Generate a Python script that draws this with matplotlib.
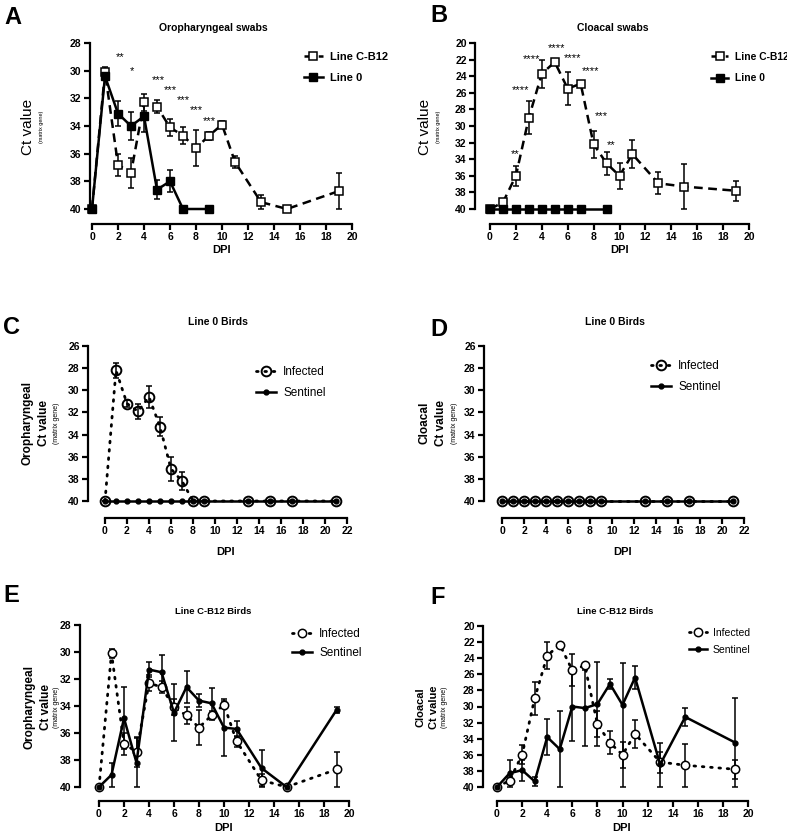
import matplotlib
matplotlib.use('Agg')
import matplotlib.pyplot as plt

plt.rcParams['font.family'] = ['Liberation Sans', 'DejaVu Sans']

W, H = 787, 833

# ---- data (Ct values, matrix gene) ----
# oropharyngeal, line C-B12 infected
oro_cb12_dpi = [0, 1, 2, 3, 4, 5, 6, 7, 8, 9, 10, 11, 13, 15, 19]
oro_cb12_ct = [40, 30.1, 36.8, 37.4, 32.3, 32.6, 34.1, 34.7, 35.6, 34.7, 33.9, 36.6, 39.5, 40, 38.7]
oro_cb12_err = [0, 0.35, 0.8, 1.1, 0.6, 0.45, 0.6, 0.6, 1.3, 0.3, 0.25, 0.4, 0.5, 0, 1.3]
# oropharyngeal, line 0 infected (panel A)
oro_l0_dpi = [0, 1, 2, 3, 4, 5, 6, 7, 9]
oro_l0_ct = [40, 30.4, 33.1, 34.0, 33.3, 38.6, 38.0, 40, 40]
oro_l0_err = [0, 0.3, 0.9, 1.0, 1.1, 0.7, 0.8, 0, 0]
# cloacal, line C-B12 infected
clo_cb12_dpi = [0, 1, 2, 3, 4, 5, 6, 7, 8, 9, 10, 11, 13, 15, 19]
clo_cb12_ct = [40, 39.2, 36.0, 29.0, 23.7, 22.3, 25.5, 24.9, 32.2, 34.5, 36.0, 33.4, 36.9, 37.3, 37.8]
clo_cb12_err = [0, 0.4, 1.2, 2.0, 1.7, 0.2, 2.0, 0.3, 1.6, 1.4, 1.6, 1.7, 1.3, 2.7, 1.2]
# cloacal, line 0 infected (panel B)
clo_l0_dpi = [0, 1, 2, 3, 4, 5, 6, 7, 9]
clo_l0_ct = [40, 40, 40, 40, 40, 40, 40, 40, 40]

# line 0 birds, infected vs sentinel (panels C, D)
l0_dpi = [0, 1, 2, 3, 4, 5, 6, 7, 8, 9, 13, 15, 17, 21]
l0_oro_inf_ct = [40, 28.2, 31.2, 31.9, 30.6, 33.3, 37.1, 38.2, 40, 40, 40, 40, 40, 40]
l0_oro_inf_err = [0, 0.65, 0.3, 0.7, 1.0, 0.85, 1.05, 0.8, 0, 0, 0, 0, 0, 0]
l0_oro_sen_ct = [40] * 14
l0_clo_inf_ct = [40] * 14
l0_clo_sen_ct = [40] * 14

# line C-B12 sentinels (panels E, F)
sen_dpi = [0, 1, 2, 3, 4, 5, 6, 7, 8, 9, 10, 11, 13, 15, 19]
sen_oro_ct = [40, 39.1, 34.9, 38.2, 31.3, 31.5, 34.5, 32.6, 33.6, 33.8, 35.6, 35.7, 38.6, 40, 34.3]
sen_oro_err = [0, 0.9, 2.3, 1.8, 0.55, 1.25, 2.1, 1.2, 0.5, 1.1, 2.1, 0.6, 1.35, 0, 0.25]
sen_clo_ct = [40, 38.3, 37.9, 39.3, 33.8, 35.3, 30.0, 30.2, 29.7, 27.2, 29.8, 26.4, 37.2, 31.3, 34.5]
sen_clo_err_up = [0, 1.7, 1.3, 0.6, 2.2, 4.7, 4.3, 4.7, 5.2, 0.6, 5.2, 1.4, 2.7, 1.15, 5.6]
sen_clo_err_dn = [0, 1.7, 1.3, 0.6, 2.2, 4.7, 4.3, 4.7, 5.2, 0.6, 10.2, 1.4, 2.8, 1.15, 5.5]

# significance stars
star_a_x = [2.2, 3.1, 5.1, 6.05, 7.0, 8.0, 9.0]
star_a_y = [28.8, 29.8, 30.5, 31.2, 31.9, 32.6, 33.4]
star_a_txt = ['**', '*', '***', '***', '***', '***', '***']
star_b_x = [1.93, 2.39, 3.17, 5.1, 6.4, 7.8, 8.6, 9.35]
star_b_y = [33.0, 25.3, 21.6, 20.2, 21.5, 23.05, 28.5, 31.9]
star_b_txt = ['**', '****', '****', '****', '****', '****', '***', '**']


def box(l, r, t, b):
    return [l / W, 1 - b / H, (r - l) / W, (b - t) / H]


def ftext(x, y, s, **kw):
    fig.text(x / W, 1 - y / H, s, **kw)


def style(ax, xmax, ytop, off_l, off_b):
    for s in ['top', 'right']:
        ax.spines[s].set_visible(False)
    ax.spines['left'].set_position(('outward', off_l * 0.72))
    ax.spines['bottom'].set_position(('outward', off_b * 0.72))
    for s in ['left', 'bottom']:
        ax.spines[s].set_linewidth(1.6)
    ax.set_xlim(0, xmax)
    ax.set_ylim(40, ytop)
    ax.set_xticks(range(0, xmax + 1, 2))
    ax.set_yticks(range(ytop, 41, 2))
    ax.tick_params(width=1.6, length=4, labelsize=7.5, pad=2)
    for lab in ax.get_xticklabels() + ax.get_yticklabels():
        lab.set_fontweight('bold')


def errs(ax, x, y, e):
    ax.errorbar(x, y, yerr=e, fmt='none', ecolor='black', elinewidth=1.1,
                capsize=2.5, capthick=1.1, clip_on=False, zorder=2)


def legend(ax, x, y, fs, bold, spacing):
    ax.legend(loc='upper left', bbox_to_anchor=(x / W, 1 - y / H),
              bbox_transform=fig.transFigure, frameon=False, borderpad=0,
              borderaxespad=0, handlelength=1.7, handletextpad=0.6,
              labelspacing=spacing,
              prop={'size': fs, 'weight': 'bold' if bold else 'normal'})


def stars(ax, xs, ys, txt):
    for x, y, t in zip(xs, ys, txt):
        ax.annotate(t, (x, y), xytext=(0, -4.3), textcoords='offset points',
                    ha='center', va='baseline', fontsize=8, annotation_clip=False)


fig = plt.figure(figsize=(W / 100, H / 100), dpi=100)

sq_open = dict(marker='s', markersize=5.5, markerfacecolor='white',
               markeredgecolor='black', markeredgewidth=1.1, color='black')
sq_fill = dict(marker='s', markersize=5.5, color='black')
dash = dict(linestyle=(0, (3.5, 2.2)), linewidth=1.8)
dot = dict(linestyle=(0, (0.6, 2.4)), linewidth=2.0, dash_capstyle='round')

# ---- A ----
ax = fig.add_axes(box(92, 352, 43, 209))
style(ax, 20, 28, 2, 15)
errs(ax, oro_cb12_dpi, oro_cb12_ct, oro_cb12_err)
errs(ax, oro_l0_dpi, oro_l0_ct, oro_l0_err)
ax.plot(oro_cb12_dpi, oro_cb12_ct, label='Line C-B12', clip_on=False, zorder=3, **sq_open, **dash)
ax.plot(oro_l0_dpi, oro_l0_ct, label='Line 0', clip_on=False, zorder=4, linewidth=1.8, **sq_fill)
stars(ax, star_a_x, star_a_y, star_a_txt)
legend(ax, 304, 52, 8, True, 1.0)

# ---- B ----
ax = fig.add_axes(box(490, 749, 43, 209))
style(ax, 20, 20, 15, 15)
errs(ax, clo_cb12_dpi, clo_cb12_ct, clo_cb12_err)
ax.plot(clo_cb12_dpi, clo_cb12_ct, label='Line C-B12', clip_on=False, zorder=3, **sq_open, **dash)
ax.plot(clo_l0_dpi, clo_l0_ct, label='Line 0', clip_on=False, zorder=4, linewidth=1.8, **sq_fill)
stars(ax, star_b_x, star_b_y, star_b_txt)
legend(ax, 711, 52, 7.4, True, 1.1)

# ---- C ----
ax = fig.add_axes(box(105, 347, 346, 501))
style(ax, 22, 26, 17, 17)
errs(ax, l0_dpi, l0_oro_inf_ct, l0_oro_inf_err)
ax.plot(l0_dpi, l0_oro_inf_ct, label='Infected', marker='o', markersize=7,
        markerfacecolor='none', markeredgecolor='black', markeredgewidth=1.4,
        color='black', clip_on=False, zorder=3, **dot)
ax.plot(l0_dpi, l0_oro_sen_ct, label='Sentinel', marker='o', markersize=3.5,
        color='black', linewidth=1.8, clip_on=False, zorder=4)
legend(ax, 256, 366, 8.5, False, 0.8)

# ---- D ----
ax = fig.add_axes(box(502, 744, 346, 501))
style(ax, 22, 26, 18, 17)
ax.plot(l0_dpi, l0_clo_inf_ct, label='Infected', marker='o', markersize=7,
        markerfacecolor='none', markeredgecolor='black', markeredgewidth=1.4,
        color='black', clip_on=False, zorder=3, **dot)
ax.plot(l0_dpi, l0_clo_sen_ct, label='Sentinel', marker='o', markersize=3.5,
        color='black', linewidth=1.8, clip_on=False, zorder=4)
legend(ax, 651, 360, 8.5, False, 0.8)

# ---- E ----
ax = fig.add_axes(box(99, 349, 625, 787))
style(ax, 20, 28, 19, 14)
errs(ax, oro_cb12_dpi, oro_cb12_ct, oro_cb12_err)
errs(ax, sen_dpi, sen_oro_ct, sen_oro_err)
ax.plot(oro_cb12_dpi, oro_cb12_ct, label='Infected', marker='o', markersize=6,
        markerfacecolor='white', markeredgecolor='black', markeredgewidth=1.1,
        color='black', clip_on=False, zorder=3, **dot)
ax.plot(sen_dpi, sen_oro_ct, label='Sentinel', marker='o', markersize=3.5,
        color='black', linewidth=1.8, clip_on=False, zorder=4)
legend(ax, 292, 628, 8.5, False, 0.6)

# ---- F ----
ax = fig.add_axes(box(497, 748, 626, 787))
style(ax, 20, 20, 14, 14)
errs(ax, clo_cb12_dpi, clo_cb12_ct, clo_cb12_err)
errs(ax, sen_dpi, sen_clo_ct, [sen_clo_err_up, sen_clo_err_dn])
ax.plot(clo_cb12_dpi, clo_cb12_ct, label='Infected', marker='o', markersize=6,
        markerfacecolor='white', markeredgecolor='black', markeredgewidth=1.1,
        color='black', clip_on=False, zorder=3, **dot)
ax.plot(sen_dpi, sen_clo_ct, label='Sentinel', marker='o', markersize=3.5,
        color='black', linewidth=1.8, clip_on=False, zorder=4)
legend(ax, 689, 628, 7.5, False, 0.65)

# ---- panel letters, titles, axis labels ----
for (x, y, s) in [(4, 17, 'A'), (430, 15, 'B'), (3, 328, 'C'),
                  (430, 330, 'D'), (3, 596, 'E'), (430, 598, 'F')]:
    ftext(x, y, s, fontsize=17, fontweight='bold', va='center', ha='left')

for (x, y, s, fs) in [(213, 28, 'Oropharyngeal swabs', 7.5), (613, 28, 'Cloacal swabs', 7.5),
                      (218, 322, 'Line 0 Birds', 7.5), (615, 322, 'Line 0 Birds', 7.5),
                      (213, 612, 'Line C-B12 Birds', 6.8), (615, 612, 'Line C-B12 Birds', 6.8)]:
    ftext(x, y, s, fontsize=fs, fontweight='bold', ha='center', va='center')

for (x, y) in [(222, 250), (620, 250), (226, 552), (623, 552), (224, 828), (622, 828)]:
    ftext(x, y, 'DPI', fontsize=8, fontweight='bold', ha='center', va='center')

# y labels
ftext(28, 127, 'Ct value', fontsize=11, rotation=90, ha='center', va='center')
ftext(42, 127, '(matrix gene)', fontsize=4, rotation=90, ha='center', va='center')
ftext(425, 127, 'Ct value', fontsize=11, rotation=90, ha='center', va='center')
ftext(438, 127, '(matrix gene)', fontsize=4, rotation=90, ha='center', va='center')

for (x0, yc, first, fs, mg) in [(28, 423, 'Oropharyngeal', 8.5, 13), (425, 423, 'Cloacal', 8.5, 13),
                                (30, 707, 'Oropharyngeal', 8.5, 11), (421, 707, 'Cloacal', 8, 11)]:
    step = 16 if fs > 8 else 13
    ftext(x0, yc, first, fontsize=fs, fontweight='bold', rotation=90, ha='center', va='center')
    ftext(x0 + step, yc, 'Ct value', fontsize=fs, fontweight='bold', rotation=90, ha='center', va='center')
    ftext(x0 + step + mg, yc, '(matrix gene)', fontsize=5, rotation=90, ha='center', va='center')

fig.savefig('out.png', dpi=100)
